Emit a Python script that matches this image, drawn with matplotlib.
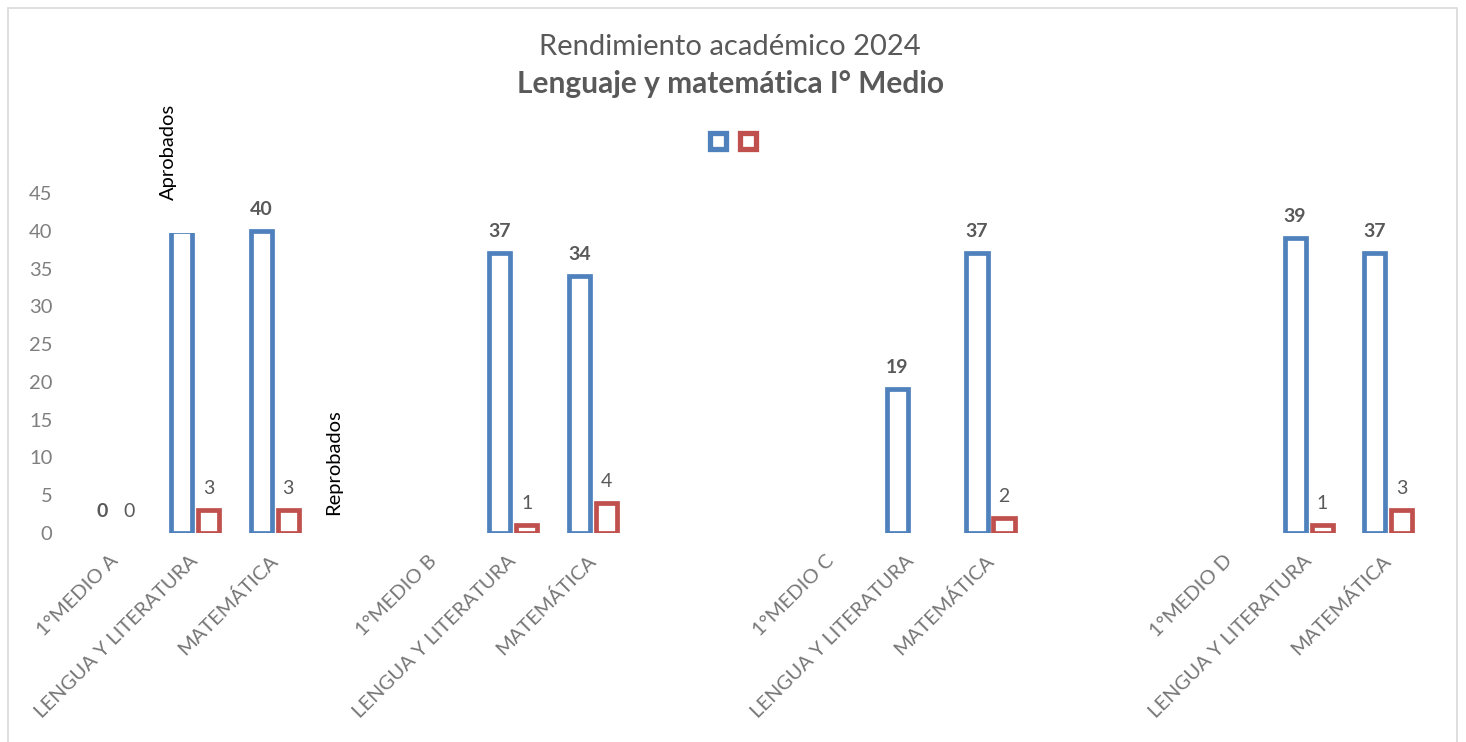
import numpy as np
import matplotlib
matplotlib.use("Agg")
import matplotlib.pyplot as plt
from matplotlib.lines import Line2D
from matplotlib.patches import Rectangle

plt.rcParams['font.family'] = ['Lato', 'DejaVu Sans']

nan = np.nan
categorias = ["1°MEDIO A", "LENGUA Y LITERATURA", "MATEMÁTICA", "",
              "1°MEDIO B", "LENGUA Y LITERATURA", "MATEMÁTICA", "", "",
              "1°MEDIO C", "LENGUA Y LITERATURA", "MATEMÁTICA", "", "",
              "1°MEDIO D", "LENGUA Y LITERATURA", "MATEMÁTICA"]
aprobados = [0, 40, 40, nan, nan, 37, 34, nan, nan, nan, 19, 37, nan, nan, nan, 39, 37]
reprobados = [0, 3, 3, nan, nan, 1, 4, nan, nan, nan, nan, 2, nan, nan, nan, 1, 3]
# en la barra de Lengua 1°A la etiqueta muestra el nombre de la serie
etiqueta_serie = {1: "Aprobados"}

azul = "#4F81BD"
rojo = "#C0504D"
gris = "#595959"
gris_claro = "#767676"

x = np.arange(len(categorias))
ap = np.array(aprobados, dtype=float)
rp = np.array(reprobados, dtype=float)
ancho = 0.265
desp = 0.17

fig = plt.figure(figsize=(14.66, 7.42), dpi=100)
ax = fig.add_axes([0.0518, 0.2817, 0.9222, 0.4582])

m_ap = ~np.isnan(ap)
m_rp = ~np.isnan(rp)
# las barras en cero no se dibujan, solo su etiqueta
b_ap = m_ap & (np.nan_to_num(ap) > 0)
b_rp = m_rp & (np.nan_to_num(rp) > 0)
barras_ap = ax.bar(x[b_ap] - desp, ap[b_ap], width=ancho, facecolor="white",
                   edgecolor=azul, linewidth=3.4, joinstyle="miter", zorder=2)
barras_rp = ax.bar(x[b_rp] + desp, rp[b_rp], width=ancho, facecolor="white",
                   edgecolor=rojo, linewidth=3.4, joinstyle="miter", zorder=2)

# etiquetas de datos
for xi, v in zip(x[m_ap], ap[m_ap]):
    if xi in etiqueta_serie:
        continue
    ax.annotate(f"{v:.0f}", (xi - desp, v), xytext=(0, 16), textcoords="offset pixels",
                ha="center", va="baseline", fontsize=14, fontweight="bold", color=gris)
for xi, v in zip(x[m_rp], rp[m_rp]):
    ax.annotate(f"{v:.0f}", (xi + desp, v), xytext=(0, 16), textcoords="offset pixels",
                ha="center", va="baseline", fontsize=14, color=gris)

# cuadro blanco de la etiqueta que tapa el borde superior de la barra
for xi, b in zip(x[b_ap], barras_ap):
    if xi in etiqueta_serie:
        ax.add_patch(Rectangle((b.get_x() - 0.05, b.get_height() - 0.3), b.get_width() + 0.1, 6,
                               facecolor="white", edgecolor="none", zorder=3, clip_on=False))
        ax.text(xi - desp - 0.17, b.get_height() + 4.1, etiqueta_serie[xi], rotation=90,
                ha="center", va="bottom", fontsize=14.5, color="black", zorder=4, clip_on=False)

ax.text(2.74, 2.4, "Reprobados", rotation=90, ha="center", va="bottom",
        fontsize=14.5, color="black")

ax.set_xlim(-0.5, len(categorias) - 0.5)
ax.set_ylim(0, 45)
ax.set_yticks(range(0, 46, 5))
ax.set_xticks(x)
ax.set_xticklabels(categorias, rotation=45, ha="right", va="center",
                   rotation_mode="anchor", fontsize=14.5, color=gris_claro)
ax.tick_params(axis="x", length=0, pad=18)
ax.tick_params(axis="y", length=0, pad=17, labelsize=14.5, labelcolor="#7F7F7F")
for s in ax.spines.values():
    s.set_visible(False)

# titulo
fig.text(0.498, 1 - 47 / 742, "Rendimiento académico 2024", ha="center", va="center",
         fontsize=21, color=gris)
fig.text(0.498, 1 - 84 / 742, "Lenguaje y matemática I° Medio", ha="center", va="center",
         fontsize=21.5, fontweight="bold", color=gris)

# leyenda sin texto
handles = [Line2D([], [], linestyle="none", marker="s", markersize=11, markerfacecolor="white",
                  markeredgecolor=c, markeredgewidth=3.8) for c in (azul, rojo)]
fig.legend(handles, ["", ""], loc="center", bbox_to_anchor=(734 / 1466, 1 - 142 / 742),
           ncol=2, frameon=False, fontsize=10, handlelength=1.0, handletextpad=0.2,
           columnspacing=0.95)

# borde del grafico
fig.patches.append(Rectangle((7.5 / 1466, -0.02), 1449.5 / 1466, 1.02 - 8 / 742,
                             transform=fig.transFigure, facecolor="none",
                             edgecolor="#D9D9D9", linewidth=1.2))

fig.savefig("out.png", dpi=100)
